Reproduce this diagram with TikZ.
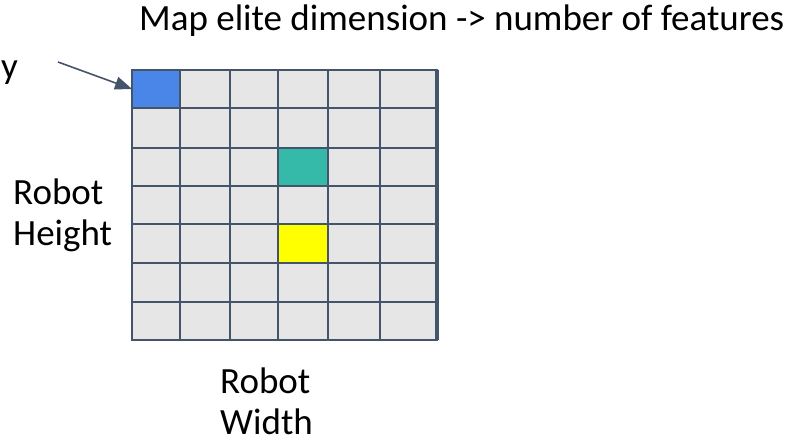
\documentclass[tikz,border=0pt]{standalone}
\usepackage{fontspec}
\setmainfont{Carlito}
\usetikzlibrary{arrows.meta}
\definecolor{gridline}{HTML}{44546A}
\definecolor{cellgray}{HTML}{E6E6E6}
\definecolor{cellblue}{HTML}{4A86E8}
\definecolor{cellteal}{HTML}{35B9A9}
\definecolor{cellyellow}{HTML}{FFFF00}
\begin{document}
\begin{tikzpicture}[x=1pt,y=-1pt,
  cell/.style={draw=gridline,line width=1.75pt,fill=cellgray,inner sep=0pt,outer sep=0pt},
  lbl/.style={inner sep=0pt,font=\fontsize{37}{41}\selectfont,align=left},
  pointer/.style={draw=gridline,line width=1.6pt,-{Triangle[length=17pt,width=13pt]}}]
\useasboundingbox (0,0) rectangle (794,443);
\foreach \c in {0,...,5}{
  \foreach \r in {0,...,6}{
    \pgfmathsetmacro\xa{{132,180,230,278,328,380,437}[\c]}
    \pgfmathsetmacro\xb{{132,180,230,278,328,380,437}[\c+1]}
    \pgfmathsetmacro\ya{{70,108,148,186,224,263,302,340}[\r]}
    \pgfmathsetmacro\yb{{70,108,148,186,224,263,302,340}[\r+1]}
    \pgfmathsetmacro\w{\xb-\xa}
    \pgfmathsetmacro\h{\yb-\ya}
    \node[cell,minimum width=\w pt,minimum height=\h pt] (cell-\c-\r) at ({(\xa+\xb)/2},{(\ya+\yb)/2}) {};
  }
}
\node[cell,fill=cellblue,minimum width=48pt,minimum height=38pt] (blue) at (156,89) {};
\node[cell,fill=cellteal,minimum width=50pt,minimum height=38pt] (teal) at (303,167) {};
\node[cell,fill=cellyellow,minimum width=50pt,minimum height=39pt] (yellow) at (303,243.5) {};
\draw[gridline,line width=3.5pt] (cell-5-0.north east) -- (cell-5-6.south east);
\node[lbl,anchor=base west] (title) at (139,31) {Map elite dimension -> number of features};
\node[lbl,anchor=base east] (ylabel) at (18,79) {y};
\node[lbl,anchor=base west] (height) at (13,246) {Robot\\Height};
\node[lbl,anchor=base west] (width) at (220,434) {Robot\\Width};
\coordinate (tail) at (58,62);
\draw[pointer] (tail) -- (blue.west);
\end{tikzpicture}
\end{document}
